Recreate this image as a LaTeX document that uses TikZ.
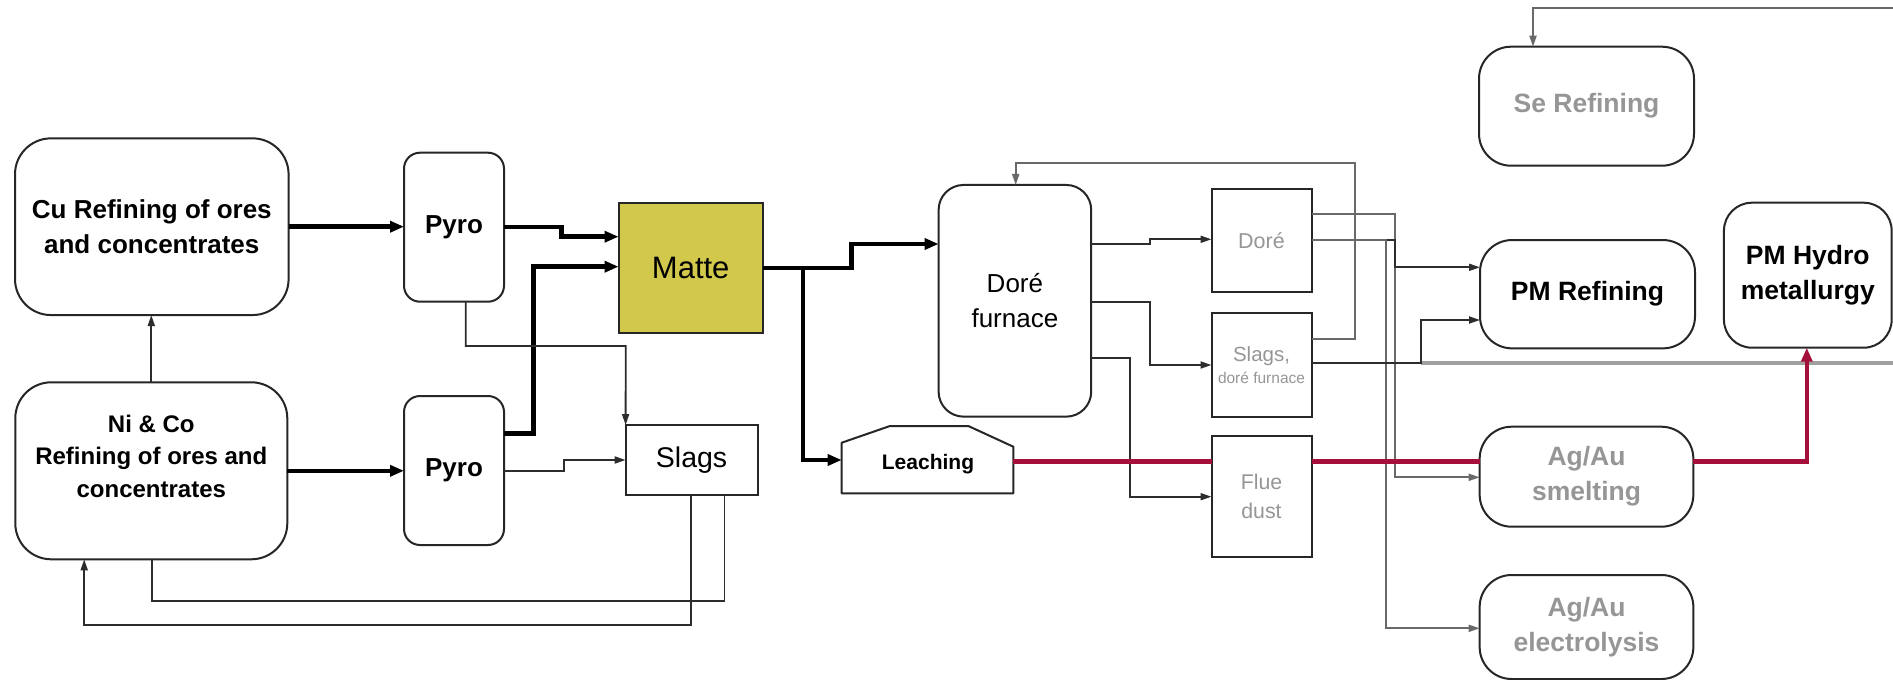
\documentclass[tikz,border=0pt]{standalone}
\usepackage{fontspec}
\setmainfont{Liberation Sans}
\usetikzlibrary{arrows.meta,calc}
\definecolor{matteY}{RGB}{210,200,76}
\definecolor{redL}{RGB}{165,16,58}
\definecolor{txtG}{RGB}{150,150,150}
\definecolor{lineG}{RGB}{105,105,105}
\definecolor{lineD}{RGB}{45,45,45}
\definecolor{thickG}{RGB}{160,160,160}
\begin{document}
\begin{tikzpicture}[x=1pt,y=-1pt,
  every node/.style={inner sep=0pt, outer sep=0pt, align=center},
  sq/.style={draw=black!85, line width=2pt, fill=white},
  rnd/.style={sq, rounded corners=#1},
  fbig/.style={font=\fontsize{26}{35}\selectfont\bfseries},
  fni/.style={font=\fontsize{24}{32.5}\selectfont\bfseries},
  fpm/.style={font=\fontsize{26.5}{35}\selectfont\bfseries},
  fgrey/.style={font=\fontsize{26.5}{35}\selectfont\bfseries, text=txtG},
  fsmall/.style={font=\fontsize{21.3}{28.3}\selectfont, text=txtG},
  thk/.style={line width=4.5pt, black, -{Triangle[length=14pt,width=11pt]}},
  tn/.style={line width=1.8pt, lineD, -{Triangle[length=11pt,width=7pt]}},
  tnn/.style={line width=1.8pt, lineD},
  tg/.style={line width=1.8pt, lineG, -{Triangle[length=11pt,width=7pt]}},
  gthick/.style={line width=4pt, thickG},
  rd/.style={line width=4.5pt, redL},
  rda/.style={rd, -{Triangle[length=14pt,width=11pt]}}
]
\fill[white] (0,0) rectangle (1893,680);
\useasboundingbox (0,0) rectangle (1893,680);

% nodes
\node[rnd=36pt, minimum width=273.6pt, minimum height=176.7pt, fbig] (cu) at (151.8,226.7) {Cu Refining of ores\\and concentrates};
\node[rnd=36pt, minimum width=272pt, minimum height=177pt] (ni) at (151.3,470.8) {};
\node[fni] (nit) at (151.3,456) {Ni \& Co\\Refining of ores and\\concentrates};
\node[rnd=16pt, minimum width=100pt, minimum height=149pt, fbig] (pyro1) at (454,227.2) {Pyro};
\node[rnd=16pt, minimum width=100pt, minimum height=149pt, fbig] (pyro2) at (454,470.5) {Pyro};
\node[sq, fill=matteY, minimum width=144.3pt, minimum height=130.6pt, font=\fontsize{31}{36}\selectfont] (matte) at (690.7,268) {Matte};
\node[sq, minimum width=132pt, minimum height=69.5pt, font=\fontsize{28.5}{34}\selectfont] (slags) at (691.6,459.8) {Slags};

\node[minimum width=171.6pt, minimum height=67.3pt] (leach) at (927.5,459.7) {};
\draw[line width=2pt, draw=black!85, fill=white, line join=round] (841.7,493.3) -- (841.7,442.7) -- (890,426) -- (968.3,426) -- (1013.3,446.7) -- (1013.3,493.3) -- cycle;
\node[font=\fontsize{21}{25}\selectfont\bfseries] (leacht) at (928,464) {Leaching};

\node[rnd=25pt, minimum width=152.6pt, minimum height=231.7pt, font=\fontsize{26}{35}\selectfont] (furn) at (1014.9,300.8) {Doré\\furnace};
\node[sq, minimum width=100pt, minimum height=102.4pt, font=\fontsize{21.5}{26}\selectfont, text=txtG] (dore) at (1261.5,240.5) {Doré};
\node[sq, minimum width=100pt, minimum height=103.4pt, font=\fontsize{15.5}{22.7}\selectfont, text=txtG] (slagd) at (1261.5,365) {{\fontsize{20.5}{22.7}\selectfont Slags,}\\doré furnace};
\node[sq, minimum width=100pt, minimum height=120.7pt, fsmall] (flue) at (1261.5,496.3) {Flue\\dust};

\node[rnd=32pt, minimum width=215pt, minimum height=119pt, fgrey] (se) at (1586.5,106.2) {Se Refining};
\node[rnd=32pt, minimum width=215pt, minimum height=108.3pt, fpm] (pmr) at (1587.5,294.2) {PM Refining};
\node[rnd=28pt, minimum width=167.7pt, minimum height=145pt, fpm] (pmh) at (1807.8,275.2) {PM Hydro\\metallurgy};
\node[rnd=32pt, minimum width=213.7pt, minimum height=100pt, fgrey] (smelt) at (1586.5,476.7) {Ag/Au\\smelting};
\node[rnd=32pt, minimum width=213.7pt, minimum height=104pt, fgrey] (elec) at (1586.5,627) {Ag/Au\\electrolysis};

% thick connectors
\draw[thk] (cu.east) -- (pyro1.west |- cu.east);
\draw[thk] (ni.east) -- (pyro2.west |- ni.east);
\draw[thk] (pyro1.east) -- (561.4,227.2) -- (561.4,236.7) -- (matte.west |- 0,236.7);
\draw[thk] (pyro2.east |- 0,433.3) -- (533.6,433.3) -- (533.6,266.7) -- (matte.west |- 0,266.7);
\draw[thk] (matte.east) -- (851.4,268) -- (851.4,244) -- (furn.west |- 0,244);
\draw[thk] (matte.east) -| (803.2,460) -- (leach.west |- 0,460);

% thin connectors
\draw[tn] (ni.north) -- (ni.north |- cu.south);
\draw[tn] (pyro1.south -| 465.7,0) -- (465.7,346) -- (625.7,346) -- (slags.north west);
\draw[tn] (pyro2.east |- 0,470.7) -- (564,470.7) -- (564,460) -- (slags.west |- 0,460);
\draw[tnn] (ni.south -| 152,0) -- (152,600.7) -- (724.5,600.7) -- (slags.south -| 724.5,0);
\draw[tn] (slags.south -| 691.3,0) -- (691.3,625) -- (84.2,625) -- (ni.south -| 84.2,0);

\draw[tn] (furn.east |- 0,244) -- (1149.7,244) -- (1149.7,239.3) -- (dore.west |- 0,239.3);
\draw[tn] (furn.east |- 0,302.3) -- (1149.7,302.3) -- (1149.7,365) -- (slagd.west);
\draw[tn] (furn.east |- 0,358.3) -- (1129.7,358.3) -- (1129.7,496.7) -- (flue.west |- 0,496.7);
\draw[tg] (slagd.east |- 0,339.3) -- (1355,339.3) -- (1355,163.3) -- (1015.7,163.3) -- (furn.north -| 1015.7,0);
\draw[tg] (dore.east |- 0,214) -- (1395,214) -- (1395,477.3) -- (smelt.west |- 0,477.3);
\draw[tn] (dore.east |- 0,240) -- (1395,240) -- (1395,267.3) -- (pmr.west |- 0,267.3);
\draw[tg] (dore.east |- 0,240) -- (1386,240) -- (1386,628.3) -- (elec.west |- 0,628.3);

\coordinate (jR) at (1420.7,363.3);
\coordinate (outR) at (1893,363.3);
\draw[gthick] (jR) -- (outR);
\draw[tn] (slagd.east |- 0,363.3) -- (jR) -- (1420.7,320) -- (pmr.west |- 0,320);

\coordinate (inSe) at (1893,8.3);
\draw[tg] (inSe) -- (1533,8.3) -- (se.north -| 1533,0);

% red route
\draw[rd] (leach.east |- 0,461.7) -- (flue.west |- 0,461.7);
\draw[rd] (flue.east |- 0,461.7) -- (smelt.west |- 0,461.7);
\draw[rda] (smelt.east |- 0,461.7) -- (1806.8,461.7) -- (pmh.south -| 1806.8,0);
\end{tikzpicture}
\end{document}
